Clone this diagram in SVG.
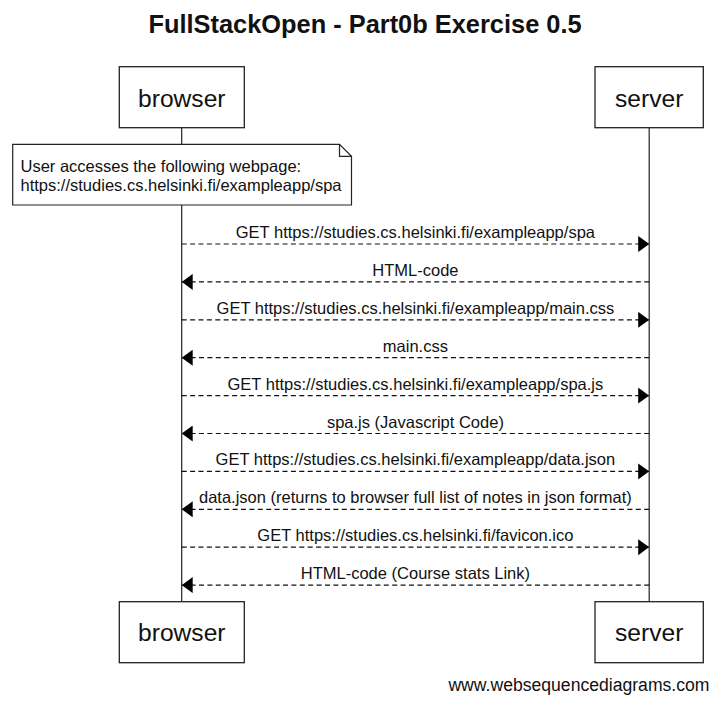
<svg xmlns="http://www.w3.org/2000/svg" width="721" height="706" viewBox="0 0 721 706">
<style>
text{font-family:"Liberation Sans",Arial,sans-serif;fill:#111}
.title{font-size:25.4px;font-weight:bold;text-anchor:middle}
.actor rect{fill:#fff;stroke:#222;stroke-width:1.3}
.actor text{font-size:24.6px;text-anchor:middle}
.life{stroke:#222;stroke-width:1.2}
.msg line{stroke:#111;stroke-width:1.2;stroke-dasharray:5 3.4}
.msg text{font-size:16.5px;text-anchor:middle}
.note path{fill:#fff;stroke:#222;stroke-width:1.2}
.note text{font-size:16.5px}
.wm{font-size:17.6px;text-anchor:end}
</style>
<defs>
<marker id="ah" viewBox="0 0 11 16" refX="11" refY="8" markerWidth="11" markerHeight="16" markerUnits="userSpaceOnUse" orient="auto">
<path d="M0,0 L11,8 L0,16 Z" fill="#000"/>
</marker>
</defs>
<rect width="721" height="706" fill="#fff"/>
<text class="title" x="365" y="33.3">FullStackOpen - Part0b Exercise 0.5</text>
<g id="lifelines">
<line class="life" x1="181.7" y1="127.7" x2="181.7" y2="601.7"/>
<line class="life" x1="649.2" y1="127.7" x2="649.2" y2="601.7"/>
</g>
<g id="browser-top" class="actor"><rect x="119.3" y="66.7" width="125" height="61"/><text x="181.8" y="106.7">browser</text></g>
<g id="server-top" class="actor"><rect x="595" y="66.7" width="108.3" height="61"/><text x="649.2" y="106.7">server</text></g>
<g id="browser-bottom" class="actor"><rect x="119.3" y="601.7" width="125" height="61"/><text x="181.8" y="641.2">browser</text></g>
<g id="server-bottom" class="actor"><rect x="595" y="601.7" width="108.3" height="61"/><text x="649.2" y="641.2">server</text></g>
<g id="note" class="note">
<path d="M12.7,144.3 H339.5 L351.5,156.3 V205 H12.7 Z M339.5,144.3 V156.3 H351.5"/>
<text x="20.5" y="171.5">User accesses the following webpage:</text>
<text x="20.5" y="190.5">https://studies.cs.helsinki.fi/exampleapp/spa</text>
</g>
<g id="connectors" class="msg">
<line x1="181.7" y1="244" x2="649.2" y2="244" marker-end="url(#ah)"/>
<text x="415.4" y="238">GET https://studies.cs.helsinki.fi/exampleapp/spa</text>
<line x1="649.2" y1="281.9" x2="181.7" y2="281.9" marker-end="url(#ah)"/>
<text x="415.4" y="275.9">HTML-code</text>
<line x1="181.7" y1="319.8" x2="649.2" y2="319.8" marker-end="url(#ah)"/>
<text x="415.4" y="313.8">GET https://studies.cs.helsinki.fi/exampleapp/main.css</text>
<line x1="649.2" y1="357.7" x2="181.7" y2="357.7" marker-end="url(#ah)"/>
<text x="415.4" y="351.7">main.css</text>
<line x1="181.7" y1="395.6" x2="649.2" y2="395.6" marker-end="url(#ah)"/>
<text x="415.4" y="389.6">GET https://studies.cs.helsinki.fi/exampleapp/spa.js</text>
<line x1="649.2" y1="433.5" x2="181.7" y2="433.5" marker-end="url(#ah)"/>
<text x="415.4" y="427.5">spa.js (Javascript Code)</text>
<line x1="181.7" y1="471.4" x2="649.2" y2="471.4" marker-end="url(#ah)"/>
<text x="415.4" y="465.4">GET https://studies.cs.helsinki.fi/exampleapp/data.json</text>
<line x1="649.2" y1="509.3" x2="181.7" y2="509.3" marker-end="url(#ah)"/>
<text x="415.4" y="503.3">data.json (returns to browser full list of notes in json format)</text>
<line x1="181.7" y1="547.2" x2="649.2" y2="547.2" marker-end="url(#ah)"/>
<text x="415.4" y="541.2">GET https://studies.cs.helsinki.fi/favicon.ico</text>
<line x1="649.2" y1="585.1" x2="181.7" y2="585.1" marker-end="url(#ah)"/>
<text x="415.4" y="579.1">HTML-code (Course stats Link)</text>
</g>
<text class="wm" x="709.5" y="690.7">www.websequencediagrams.com</text>
</svg>
